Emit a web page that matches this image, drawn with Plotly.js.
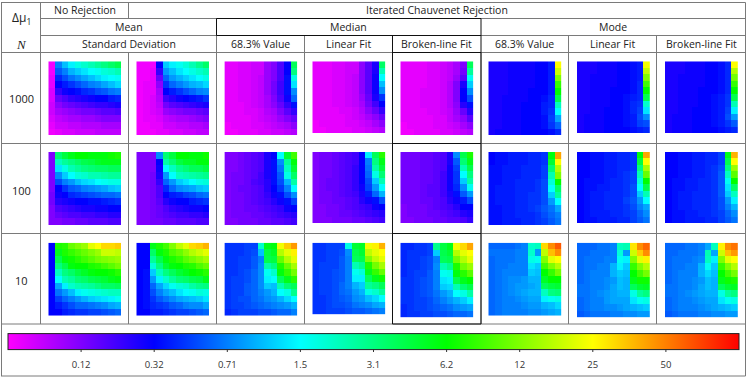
<!DOCTYPE html>
<html>
<head>
<meta charset="utf-8">
<script src="https://cdn.plot.ly/plotly-3.0.1.min.js"></script>
<style>
  html, body { margin: 0; padding: 0; background: #fff; }
  #graph { width: 747px; height: 378px; }
</style>
</head>
<body>
<div id="graph"></div>
<script>
// Colour levels, top row first.
// 0 magenta, 2 blue, 4 cyan, 6 green, 8 yellow, 10 red
const n1000_noRej = [
  [.1,3.0,3.5,3.9,4.2,4.4,4.6,4.8,5.0,5.2,5.4],
  [.1,2.7,3.0,3.4,3.6,3.8,4.0,4.1,4.3,4.4,4.6],
  [.2,2.3,2.6,2.9,3.1,3.3,3.5,3.7,3.9,4.0,4.1],
  [.2,2.0,2.2,2.4,2.6,2.8,3.0,3.1,3.3,3.5,3.7],
  [.3,1.6,1.9,2.0,2.1,2.3,2.4,2.6,2.7,2.9,3.0],
  [.3,1.2,1.4,1.6,1.7,1.8,1.9,2.0,2.0,2.2,2.3],
  [.4,.9,1.1,1.2,1.3,1.4,1.5,1.6,1.6,1.7,1.8],
  [.4,.7,.8,.9,1.0,1.1,1.1,1.2,1.3,1.3,1.4],
  [.3,.5,.6,.7,.7,.8,.8,.9,1.0,1.0,1.0],
  [.2,.4,.4,.5,.5,.6,.6,.6,.7,.7,.7],
  [.1,.2,.3,.3,.4,.4,.4,.5,.5,.5,.5]
];
const n1000_stdDev = [
  [.1,.1,.1,2.0,3.6,3.9,4.1,4.3,4.6,4.9,5.2],
  [.1,.1,.2,1.6,3.2,3.5,3.8,4.0,4.2,4.4,4.6],
  [.1,.1,.2,1.2,2.8,3.2,3.4,3.6,3.8,4.0,4.2],
  [.1,.2,.2,.9,2.4,2.8,3.0,3.2,3.4,3.5,3.7],
  [.1,.2,.2,.7,2.0,2.2,2.4,2.6,2.8,3.0,3.1],
  [.1,.2,.3,.6,1.5,1.7,1.9,2.0,2.1,2.2,2.4],
  [.1,.2,.3,.5,1.1,1.3,1.4,1.5,1.6,1.7,1.8],
  [.1,.2,.3,.4,.8,.9,1.0,1.1,1.1,1.2,1.3],
  [.1,.2,.2,.3,.5,.6,.7,.7,.8,.9,1.0],
  [.1,.1,.2,.2,.4,.4,.5,.5,.6,.6,.7],
  [.1,.1,.1,.2,.2,.3,.3,.4,.4,.5,.5]
];
const n1000_med683 = [
  [.2,.2,.3,.3,.4,.4,.8,1.0,1.4,2.0,5.3],
  [.2,.2,.3,.3,.4,.4,.8,1.0,1.4,2.0,5.0],
  [.2,.2,.3,.3,.4,.5,.8,1.0,1.4,2.1,4.2],
  [.2,.2,.3,.3,.4,.5,.8,1.1,1.5,2.1,3.8],
  [.2,.2,.3,.3,.4,.5,.8,1.1,1.5,2.1,3.1],
  [.2,.2,.3,.3,.4,.5,.7,1.0,1.4,1.9,2.8],
  [.2,.2,.2,.3,.4,.5,.7,.9,1.2,1.6,2.1],
  [.2,.2,.2,.3,.3,.4,.6,.7,1.0,1.3,1.6],
  [.2,.2,.2,.2,.3,.4,.5,.6,.8,1.0,1.2],
  [.1,.2,.2,.2,.3,.3,.4,.5,.6,.7,.9],
  [.1,.1,.2,.2,.2,.3,.3,.4,.4,.5,.6]
];
const n1000_medLin = [
  [.2,.2,.2,.3,.3,.4,.4,.9,1.3,1.8,5.2],
  [.2,.2,.2,.3,.3,.4,.4,.9,1.3,1.8,4.6],
  [.2,.2,.2,.3,.3,.4,.5,.9,1.3,1.9,4.0],
  [.2,.2,.2,.3,.3,.4,.5,.9,1.3,1.9,3.5],
  [.2,.2,.2,.3,.3,.4,.5,.9,1.3,1.9,3.1],
  [.2,.2,.2,.3,.3,.4,.5,.8,1.2,1.8,2.4],
  [.2,.2,.2,.3,.3,.4,.5,.7,1.1,1.5,2.0],
  [.2,.2,.2,.2,.3,.3,.4,.6,.9,1.2,1.6],
  [.2,.2,.2,.2,.2,.3,.4,.5,.7,.9,1.2],
  [.1,.2,.2,.2,.2,.3,.3,.4,.5,.7,.9],
  [.1,.1,.2,.2,.2,.2,.3,.3,.4,.5,.6]
];
const n1000_medBrk = [
  [.2,.2,.2,.2,.3,.3,.4,.5,.7,1.0,5.3],
  [.2,.2,.2,.2,.3,.3,.4,.5,.7,1.1,4.8],
  [.2,.2,.2,.2,.3,.3,.4,.5,.8,1.3,4.1],
  [.2,.2,.2,.2,.3,.3,.4,.6,1.0,1.8,3.6],
  [.2,.2,.2,.3,.3,.3,.4,.6,1.0,2.0,3.1],
  [.2,.2,.2,.3,.3,.3,.4,.6,1.0,2.0,2.6],
  [.2,.2,.2,.3,.3,.3,.4,.6,.9,1.7,2.1],
  [.2,.2,.2,.2,.3,.3,.4,.5,.8,1.2,1.7],
  [.2,.2,.2,.2,.2,.3,.3,.5,.7,.9,1.3],
  [.1,.2,.2,.2,.2,.3,.3,.4,.5,.7,.9],
  [.1,.1,.2,.2,.2,.2,.3,.3,.4,.5,.6]
];
const n1000_mod683 = [
  [1.8,1.8,1.8,1.9,1.9,1.9,1.9,2.0,2.0,2.2,8.0],
  [1.8,1.8,1.8,1.9,1.9,1.9,1.9,2.0,2.0,2.2,7.6],
  [1.8,1.8,1.8,1.9,1.9,1.9,1.9,2.0,2.0,2.2,7.0],
  [1.8,1.8,1.8,1.9,1.9,1.9,1.9,2.0,2.0,2.2,6.4],
  [1.8,1.8,1.8,1.9,1.9,1.9,2.0,2.0,2.0,2.2,6.0],
  [1.8,1.8,1.9,1.9,1.9,1.9,2.0,2.0,2.1,2.3,5.4],
  [1.8,1.8,1.9,1.9,1.9,2.0,2.0,2.0,2.2,2.3,4.5],
  [1.8,1.8,1.9,1.9,1.9,2.0,2.0,2.0,2.2,2.4,4.0],
  [1.8,1.8,1.9,1.9,1.9,2.0,2.0,2.0,2.1,2.5,3.3],
  [1.8,1.8,1.9,1.9,1.9,2.0,2.0,2.0,2.1,2.4,2.8],
  [1.8,1.9,1.9,1.9,1.9,2.0,2.0,2.0,2.0,2.1,2.3]
];
const n1000_modLin = [
  [1.8,1.8,1.8,1.9,1.9,1.9,2.0,2.0,2.1,2.2,7.9],
  [1.8,1.8,1.8,1.9,1.9,1.9,2.0,2.0,2.1,2.2,7.5],
  [1.8,1.8,1.9,1.9,1.9,1.9,2.0,2.0,2.1,2.2,7.0],
  [1.8,1.8,1.9,1.9,1.9,1.9,2.0,2.0,2.1,2.3,6.5],
  [1.8,1.8,1.9,1.9,1.9,2.0,2.0,2.0,2.1,2.3,6.0],
  [1.8,1.8,1.9,1.9,1.9,2.0,2.0,2.1,2.2,2.3,5.4],
  [1.8,1.8,1.9,1.9,1.9,2.0,2.0,2.1,2.3,2.4,4.4],
  [1.8,1.8,1.9,1.9,2.0,2.0,2.0,2.1,2.3,2.5,3.8],
  [1.8,1.9,1.9,1.9,2.0,2.0,2.0,2.1,2.2,2.6,3.1],
  [1.8,1.9,1.9,1.9,2.0,2.0,2.0,2.1,2.2,2.5,2.6],
  [1.8,1.9,1.9,1.9,2.0,2.0,2.0,2.0,2.1,2.2,2.3]
];
const n1000_modBrk = [
  [1.8,1.8,1.8,1.9,1.9,1.9,2.0,2.0,2.1,2.3,8.0],
  [1.8,1.8,1.8,1.9,1.9,1.9,2.0,2.0,2.1,2.3,7.4],
  [1.8,1.8,1.9,1.9,1.9,1.9,2.0,2.0,2.1,2.3,6.9],
  [1.8,1.8,1.9,1.9,1.9,1.9,2.0,2.0,2.1,2.3,6.4],
  [1.8,1.8,1.9,1.9,1.9,2.0,2.0,2.0,2.1,2.3,6.0],
  [1.8,1.8,1.9,1.9,1.9,2.0,2.0,2.1,2.2,2.4,5.4],
  [1.8,1.8,1.9,1.9,1.9,2.0,2.0,2.1,2.2,2.4,4.6],
  [1.8,1.8,1.9,1.9,2.0,2.0,2.0,2.1,2.2,2.5,3.9],
  [1.8,1.9,1.9,1.9,2.0,2.0,2.0,2.1,2.2,2.6,3.2],
  [1.8,1.9,1.9,1.9,2.0,2.0,2.0,2.1,2.2,2.4,2.7],
  [1.8,1.9,1.9,1.9,2.0,2.0,2.0,2.0,2.1,2.2,2.3]
];

const n100_noRej = [
  [1.0,5.1,5.5,5.8,6.0,6.0,5.9,5.9,5.9,6.1,6.2],
  [1.0,4.5,4.8,5.0,5.2,5.4,5.5,5.7,5.8,5.8,5.8],
  [1.0,3.8,4.2,4.6,4.8,5.0,5.1,5.2,5.2,5.3,5.3],
  [1.0,3.1,3.6,4.0,4.3,4.4,4.6,4.6,4.7,4.8,4.8],
  [1.0,2.6,3.0,3.2,3.5,3.7,3.8,4.0,4.1,4.2,4.2],
  [1.0,2.0,2.4,2.7,2.8,3.0,3.1,3.2,3.3,3.5,3.6],
  [1.1,1.9,2.0,2.3,2.4,2.5,2.6,2.7,2.8,2.8,2.9],
  [1.1,1.7,1.8,1.9,2.0,2.0,2.1,2.1,2.2,2.3,2.4],
  [1.0,1.4,1.5,1.6,1.7,1.8,1.8,1.9,1.9,2.0,2.0],
  [1.0,1.2,1.3,1.4,1.4,1.5,1.5,1.6,1.6,1.7,1.7],
  [1.0,1.0,1.1,1.1,1.2,1.2,1.3,1.3,1.3,1.4,1.4]
];
const n100_stdDev = [
  [1.0,1.0,1.0,3.1,5.1,5.5,6.0,6.0,5.9,5.9,6.1],
  [1.0,1.0,1.0,2.0,4.7,5.1,5.5,5.7,5.7,5.9,5.9],
  [1.0,1.0,1.0,1.9,4.0,4.5,4.9,5.1,5.3,5.3,5.5],
  [1.0,1.0,1.1,1.8,3.2,4.0,4.5,4.6,4.7,4.8,4.9],
  [1.0,1.0,1.1,1.6,2.8,3.2,3.6,3.8,4.0,4.2,4.3],
  [1.0,1.0,1.1,1.4,2.3,2.8,3.1,3.2,3.3,3.5,3.6],
  [1.0,1.0,1.1,1.4,2.0,2.2,2.3,2.5,2.6,2.8,2.9],
  [1.0,1.0,1.1,1.3,1.7,1.9,2.0,2.0,2.2,2.3,2.4],
  [1.0,1.0,1.1,1.2,1.4,1.6,1.7,1.8,1.9,1.9,2.0],
  [1.0,1.0,1.1,1.2,1.3,1.4,1.5,1.5,1.6,1.6,1.7],
  [1.0,1.0,1.1,1.1,1.2,1.2,1.3,1.3,1.3,1.4,1.4]
];
const n100_med683 = [
  [1.0,1.0,1.1,1.2,1.3,1.4,1.8,2.0,4.0,5.6,6.5],
  [1.0,1.0,1.1,1.2,1.3,1.4,1.8,2.1,3.1,4.8,5.9],
  [1.0,1.0,1.1,1.2,1.3,1.4,1.8,2.1,2.9,4.5,5.6],
  [1.0,1.1,1.1,1.2,1.3,1.5,1.8,2.1,2.7,4.2,5.2],
  [1.0,1.1,1.1,1.2,1.4,1.5,1.7,2.1,2.6,3.4,4.7],
  [1.0,1.1,1.2,1.2,1.3,1.4,1.7,2.0,2.4,3.0,4.0],
  [1.0,1.1,1.1,1.2,1.3,1.4,1.6,1.9,2.1,2.6,3.1],
  [1.0,1.1,1.1,1.2,1.3,1.4,1.5,1.7,1.9,2.1,2.5],
  [1.0,1.1,1.1,1.2,1.2,1.3,1.4,1.5,1.6,1.9,2.0],
  [1.0,1.1,1.1,1.1,1.2,1.2,1.3,1.4,1.5,1.6,1.7],
  [1.0,1.0,1.1,1.1,1.1,1.2,1.2,1.3,1.3,1.4,1.5]
];
const n100_medLin = [
  [1.0,1.1,1.1,1.2,1.3,1.4,1.5,2.0,3.9,5.3,6.3],
  [1.0,1.1,1.1,1.2,1.3,1.4,1.5,2.0,3.0,5.0,5.8],
  [1.0,1.1,1.1,1.2,1.3,1.4,1.6,2.0,2.9,4.7,5.5],
  [1.0,1.1,1.1,1.2,1.3,1.4,1.6,2.0,2.8,4.2,5.1],
  [1.0,1.1,1.2,1.2,1.3,1.4,1.6,2.0,2.6,3.6,4.6],
  [1.0,1.1,1.2,1.2,1.3,1.4,1.6,1.9,2.5,3.2,4.0],
  [1.0,1.1,1.1,1.2,1.3,1.4,1.5,1.8,2.2,2.8,3.4],
  [1.0,1.1,1.1,1.2,1.2,1.3,1.4,1.7,1.9,2.1,2.6],
  [1.0,1.0,1.1,1.1,1.2,1.3,1.4,1.5,1.6,1.9,2.0],
  [1.0,1.0,1.1,1.1,1.2,1.2,1.3,1.4,1.5,1.6,1.7],
  [1.0,1.0,1.0,1.1,1.1,1.1,1.2,1.2,1.3,1.4,1.5]
];
const n100_medBrk = [
  [1.1,1.1,1.1,1.2,1.2,1.3,1.4,1.8,3.1,5.4,6.2],
  [1.1,1.1,1.1,1.2,1.2,1.3,1.4,1.8,2.7,5.1,5.8],
  [1.1,1.1,1.1,1.2,1.2,1.3,1.4,1.9,2.5,4.6,5.4],
  [1.1,1.1,1.1,1.2,1.2,1.3,1.5,1.9,2.4,4.0,5.0],
  [1.1,1.1,1.1,1.2,1.2,1.3,1.5,1.9,2.4,3.6,4.7],
  [1.1,1.1,1.1,1.2,1.3,1.3,1.5,1.9,2.3,3.1,4.1],
  [1.1,1.1,1.1,1.2,1.3,1.3,1.5,1.8,2.1,2.7,3.2],
  [1.1,1.1,1.1,1.2,1.2,1.3,1.4,1.7,1.9,2.2,2.6],
  [1.0,1.1,1.1,1.1,1.2,1.3,1.4,1.5,1.7,2.0,2.0],
  [1.0,1.1,1.1,1.1,1.2,1.2,1.3,1.4,1.5,1.7,1.8],
  [1.0,1.0,1.1,1.1,1.1,1.2,1.2,1.3,1.3,1.4,1.6]
];
const n100_mod683 = [
  [2.0,2.1,2.1,2.2,2.2,2.2,2.3,2.3,2.4,5.9,8.7],
  [2.0,2.1,2.1,2.2,2.2,2.2,2.3,2.3,2.4,5.6,8.0],
  [2.1,2.1,2.2,2.2,2.2,2.3,2.3,2.3,2.5,5.1,7.4],
  [2.1,2.1,2.2,2.2,2.2,2.3,2.3,2.3,2.5,4.6,7.0],
  [2.1,2.1,2.2,2.2,2.3,2.3,2.3,2.4,2.6,4.3,6.0],
  [2.1,2.2,2.2,2.2,2.3,2.3,2.3,2.4,2.6,4.0,5.2],
  [2.1,2.2,2.2,2.2,2.3,2.3,2.4,2.4,2.6,3.6,4.8],
  [2.1,2.2,2.2,2.2,2.3,2.3,2.4,2.4,2.6,3.2,4.0],
  [2.1,2.1,2.2,2.2,2.3,2.3,2.4,2.5,2.7,2.9,3.3],
  [2.1,2.1,2.2,2.2,2.3,2.3,2.3,2.4,2.6,2.8,3.0],
  [2.1,2.1,2.2,2.2,2.2,2.3,2.3,2.4,2.5,2.7,2.9]
];
const n100_modLin = [
  [2.0,2.0,2.1,2.1,2.2,2.2,2.3,2.3,2.4,5.9,8.7],
  [2.0,2.0,2.1,2.1,2.2,2.2,2.3,2.3,2.4,5.5,8.0],
  [2.0,2.0,2.1,2.1,2.2,2.2,2.3,2.3,2.4,5.0,7.3],
  [2.0,2.0,2.1,2.1,2.2,2.2,2.3,2.4,2.5,4.6,6.8],
  [2.0,2.1,2.1,2.1,2.2,2.3,2.3,2.4,2.5,4.3,6.0],
  [2.0,2.1,2.1,2.2,2.2,2.3,2.3,2.4,2.6,4.0,5.4],
  [2.0,2.1,2.2,2.2,2.3,2.3,2.3,2.4,2.6,3.6,4.6],
  [2.0,2.1,2.2,2.2,2.3,2.3,2.3,2.5,2.7,3.2,4.0],
  [2.0,2.1,2.2,2.2,2.3,2.3,2.3,2.4,2.6,3.0,3.3],
  [2.0,2.1,2.2,2.2,2.2,2.3,2.3,2.4,2.5,2.8,3.1],
  [2.0,2.1,2.1,2.2,2.2,2.2,2.3,2.3,2.5,2.7,2.9]
];
const n100_modBrk = [
  [2.0,2.0,2.1,2.1,2.2,2.2,2.3,2.3,2.5,5.8,8.6],
  [2.0,2.0,2.1,2.1,2.2,2.2,2.3,2.3,2.5,5.4,8.0],
  [2.0,2.0,2.1,2.1,2.2,2.2,2.3,2.4,2.6,5.0,7.2],
  [2.0,2.0,2.1,2.1,2.2,2.2,2.3,2.4,2.7,4.5,6.7],
  [2.0,2.1,2.1,2.2,2.2,2.3,2.3,2.4,2.7,4.1,6.0],
  [2.0,2.1,2.1,2.2,2.2,2.3,2.3,2.4,2.7,3.8,5.2],
  [2.0,2.1,2.2,2.2,2.3,2.3,2.3,2.4,2.7,3.6,4.5],
  [2.0,2.1,2.2,2.2,2.3,2.3,2.3,2.4,2.6,3.2,3.9],
  [2.0,2.1,2.2,2.2,2.3,2.3,2.3,2.4,2.6,3.0,3.4],
  [2.0,2.1,2.1,2.2,2.2,2.3,2.3,2.4,2.5,2.8,3.1],
  [2.0,2.1,2.1,2.2,2.2,2.2,2.3,2.3,2.5,2.7,2.9]
];

const n10_noRej = [
  [2.0,6.2,6.3,6.8,7.0,7.2,7.8,8.0,8.3,8.3,8.4],
  [2.0,5.8,6.2,6.4,6.6,6.8,7.0,7.2,7.6,7.6,7.5],
  [2.0,5.4,5.9,6.1,6.3,6.5,6.7,6.9,7.0,7.1,7.2],
  [2.0,5.0,5.4,5.9,6.0,6.0,6.2,6.3,6.5,6.7,6.9],
  [2.0,4.5,5.0,5.2,5.5,5.7,5.9,6.0,6.0,6.1,6.3],
  [2.0,4.0,4.6,4.8,5.1,5.2,5.4,5.5,5.6,5.8,5.9],
  [2.0,3.3,3.9,4.4,4.6,4.7,4.8,5.0,5.2,5.2,5.3],
  [2.0,2.9,3.2,3.5,3.9,4.1,4.2,4.3,4.4,4.5,4.5],
  [2.0,2.5,2.8,3.0,3.2,3.4,3.6,3.7,3.8,3.9,4.1],
  [2.0,2.2,2.4,2.6,2.8,2.8,2.9,3.0,3.1,3.3,3.4],
  [2.0,2.0,2.2,2.3,2.4,2.4,2.5,2.5,2.6,2.7,2.8]
];
const n10_stdDev = [
  [2.0,2.0,5.8,6.2,6.5,7.0,7.5,7.8,8.3,8.4,8.6],
  [2.0,2.0,5.2,5.9,6.2,6.6,6.8,7.1,7.4,7.6,7.8],
  [2.0,2.0,4.8,5.4,5.9,6.2,6.4,6.7,6.9,7.1,7.3],
  [2.0,2.0,4.3,5.0,5.6,5.9,6.0,6.2,6.3,6.6,6.8],
  [2.0,2.1,3.6,4.5,5.0,5.3,5.6,5.8,6.0,6.1,6.3],
  [2.0,2.1,3.2,3.9,4.4,4.8,5.1,5.2,5.4,5.5,5.8],
  [2.0,2.1,2.8,3.3,3.7,4.1,4.3,4.4,4.7,4.9,5.0],
  [2.0,2.1,2.6,3.0,3.3,3.5,3.8,4.0,4.1,4.3,4.2],
  [2.0,2.1,2.4,2.7,2.9,3.1,3.3,3.4,3.5,3.6,3.8],
  [2.0,2.1,2.3,2.4,2.5,2.7,2.8,3.0,3.1,3.1,3.3],
  [2.0,2.0,2.2,2.2,2.3,2.4,2.5,2.5,2.6,2.7,2.8]
];
const n10_med683 = [
  [2.4,2.4,2.4,2.5,2.5,4.4,5.8,5.9,7.9,8.4,8.8],
  [2.4,2.4,2.4,2.5,2.6,3.5,5.5,5.7,7.4,7.8,8.1],
  [2.4,2.4,2.5,2.5,2.7,3.0,5.4,5.5,6.8,7.4,7.8],
  [2.4,2.4,2.5,2.5,2.7,3.1,4.7,5.0,6.2,6.8,7.3],
  [2.4,2.4,2.5,2.6,2.8,3.1,4.1,4.4,5.9,6.4,6.9],
  [2.4,2.5,2.5,2.6,2.8,3.1,3.9,4.0,5.3,5.8,6.3],
  [2.4,2.5,2.5,2.7,2.8,3.1,3.6,3.5,4.6,5.1,5.3],
  [2.4,2.5,2.5,2.7,2.8,3.0,3.2,3.4,4.0,4.2,4.9],
  [2.4,2.5,2.6,2.6,2.8,2.9,3.1,3.2,3.4,3.7,4.0],
  [2.4,2.5,2.5,2.6,2.7,2.8,2.9,3.0,3.1,3.2,3.4],
  [2.3,2.4,2.5,2.5,2.5,2.6,2.6,2.7,2.8,2.8,3.0]
];
const n10_medLin = [
  [2.4,2.4,2.5,2.5,2.5,4.2,5.6,5.7,7.9,8.1,8.6],
  [2.4,2.4,2.5,2.5,2.6,3.1,5.4,5.6,7.5,7.8,8.0],
  [2.4,2.4,2.5,2.5,2.7,3.0,5.3,5.4,7.0,7.5,7.8],
  [2.4,2.5,2.5,2.5,2.7,3.0,4.6,4.9,6.2,6.9,7.3],
  [2.4,2.5,2.5,2.6,2.7,3.0,4.1,4.3,5.8,6.4,6.8],
  [2.4,2.5,2.5,2.6,2.7,3.0,3.9,3.9,5.3,5.8,6.1],
  [2.4,2.5,2.5,2.6,2.8,3.0,3.4,3.6,4.8,5.0,5.3],
  [2.4,2.5,2.5,2.6,2.8,2.9,3.2,3.4,4.2,4.4,4.8],
  [2.4,2.4,2.5,2.6,2.7,2.8,3.1,3.2,3.5,3.7,4.0],
  [2.4,2.4,2.5,2.6,2.6,2.7,2.9,3.0,3.1,3.3,3.4],
  [2.4,2.4,2.5,2.5,2.5,2.6,2.7,2.7,2.8,2.9,3.0]
];
const n10_medBrk = [
  [2.3,2.3,2.4,2.4,2.5,4.9,5.5,5.8,7.9,8.3,8.7],
  [2.3,2.4,2.4,2.4,2.5,3.6,5.4,5.6,7.4,7.8,8.0],
  [2.3,2.4,2.4,2.5,2.6,3.0,5.3,5.4,6.9,7.4,7.8],
  [2.3,2.4,2.4,2.5,2.6,3.1,4.6,4.9,6.2,6.9,7.2],
  [2.3,2.4,2.5,2.5,2.7,3.0,4.1,4.2,5.9,6.3,6.7],
  [2.4,2.4,2.5,2.6,2.7,3.0,3.8,3.9,5.4,5.8,6.0],
  [2.4,2.4,2.5,2.6,2.7,3.0,3.6,3.7,4.6,5.1,5.4],
  [2.4,2.4,2.5,2.6,2.7,2.9,3.2,3.4,4.0,4.2,4.7],
  [2.4,2.4,2.5,2.5,2.6,2.8,3.0,3.2,3.4,3.6,3.9],
  [2.3,2.4,2.5,2.5,2.6,2.7,2.8,2.9,3.1,3.2,3.3],
  [2.3,2.4,2.4,2.5,2.5,2.6,2.6,2.7,2.8,2.8,2.9]
];
const n10_mod683 = [
  [2.8,2.8,2.8,2.8,2.9,3.0,4.4,4.5,8.3,8.9,9.3],
  [2.9,2.9,2.9,2.9,3.0,3.0,4.4,3.2,7.5,8.5,8.9],
  [2.8,2.9,2.9,2.9,3.0,3.0,4.2,4.1,7.0,7.8,8.0],
  [2.8,2.9,2.9,3.0,3.0,3.0,3.8,3.6,6.5,7.0,7.4],
  [2.8,2.9,3.0,3.0,3.0,3.0,3.6,3.5,6.0,6.4,6.9],
  [2.8,2.9,3.0,3.1,3.1,3.2,3.4,3.4,5.7,6.0,6.0],
  [2.8,2.9,3.0,3.1,3.2,3.2,3.3,3.4,5.3,5.5,5.6],
  [2.8,2.9,3.0,3.1,3.2,3.3,3.4,3.4,4.5,5.0,5.1],
  [2.8,2.9,3.0,3.0,3.1,3.2,3.3,3.3,3.9,4.1,4.2],
  [2.8,2.9,3.0,3.0,3.0,3.1,3.2,3.2,3.4,3.5,3.7],
  [2.8,2.9,3.0,3.0,3.0,3.0,3.1,3.1,3.2,3.3,3.4]
];
const n10_modLin = [
  [2.8,2.8,2.8,2.9,2.9,3.0,4.5,4.6,8.2,8.9,9.2],
  [2.8,2.8,2.9,2.9,2.9,3.0,4.3,3.2,7.6,8.4,8.9],
  [2.8,2.9,2.9,2.9,3.0,3.0,4.1,3.9,7.0,7.8,8.1],
  [2.8,2.9,2.9,3.0,3.0,3.4,3.9,3.6,6.4,7.0,7.4],
  [2.8,2.9,3.0,3.0,3.0,3.4,3.6,3.5,6.0,6.5,6.9],
  [2.8,2.9,3.0,3.0,3.1,3.2,3.5,3.4,5.8,6.1,6.1],
  [2.9,2.9,3.0,3.0,3.1,3.3,3.5,3.4,5.3,5.6,5.7],
  [2.9,2.9,3.0,3.1,3.2,3.3,3.4,3.4,4.2,4.8,5.0],
  [2.8,2.9,3.0,3.0,3.2,3.3,3.3,3.3,3.8,4.1,4.2],
  [2.8,2.9,3.0,3.0,3.1,3.1,3.2,3.3,3.4,3.5,3.6],
  [2.7,2.8,2.9,2.9,2.9,3.0,3.0,3.1,3.1,3.2,3.2]
];
const n10_modBrk = [
  [2.8,2.8,2.8,2.9,2.9,3.0,3.3,4.5,8.1,8.9,9.1],
  [2.8,2.8,2.9,2.9,2.9,3.0,4.6,3.3,7.6,8.5,8.8],
  [2.8,2.9,2.9,2.9,3.0,3.1,4.5,3.9,7.0,7.8,8.0],
  [2.8,2.9,2.9,3.0,3.0,3.4,4.1,3.6,6.4,7.0,7.4],
  [2.8,2.9,3.0,3.0,3.0,3.4,3.7,3.5,6.0,6.5,6.9],
  [2.8,2.9,3.0,3.0,3.1,3.2,3.5,3.4,5.8,6.1,6.2],
  [2.9,2.9,3.0,3.0,3.1,3.3,3.5,3.4,5.3,5.6,5.7],
  [2.9,2.9,3.0,3.1,3.2,3.3,3.4,3.4,4.2,4.8,5.0],
  [2.8,2.9,3.0,3.0,3.1,3.2,3.3,3.3,3.8,4.1,4.2],
  [2.8,2.9,3.0,3.0,3.0,3.1,3.2,3.3,3.4,3.5,3.6],
  [2.7,2.8,2.9,2.9,2.9,3.0,3.0,3.1,3.1,3.2,3.2]
];

const sampleSizes = ['1000', '100', '10'];
const columnLabels = ['68.3% Value', 'Linear Fit', 'Broken-line Fit', '68.3% Value', 'Linear Fit', 'Broken-line Fit'];
const barTickVals = [1, 2, 3, 4, 5, 6, 7, 8, 9];
const barTickText = ['0.12', '0.32', '0.71', '1.5', '3.1', '6.2', '12', '25', '50'];

const panels = [
  n1000_noRej, n1000_stdDev, n1000_med683, n1000_medLin, n1000_medBrk, n1000_mod683, n1000_modLin, n1000_modBrk,
  n100_noRej, n100_stdDev, n100_med683, n100_medLin, n100_medBrk, n100_mod683, n100_modLin, n100_modBrk,
  n10_noRej, n10_stdDev, n10_med683, n10_medLin, n10_medBrk, n10_mod683, n10_modLin, n10_modBrk
];

// page layout, in pixels
const W = 747, H = 378;
const colLeft = [48.3, 136.3, 224.4, 312.3, 400.3, 488.3, 577, 665];
const colRight = [121, 209, 297.2, 385.4, 473.4, 561.6, 649.8, 737.8];
const rowTop = [61.3, 152, 242.7];
const rowBottom = [
  [135, 135, 135, 133, 135, 135, 133, 133],
  [225.3, 225.3, 225.3, 223.4, 223.4, 225.3, 223.4, 223.4],
  [315.7, 315.7, 315.7, 314.3, 317.3, 315.7, 317.3, 317.3]
];
const barLeft = 8, barWidth = 731, barBottom = 349.5;

const px = x => x / W;
const py = y => 1 - y / H;

const data = [];
const layout = {
  width: W,
  height: H,
  // autoexpand off, or the colour bar pushes the paper coordinates around
  margin: {l: 0, r: 0, t: 0, b: 0, autoexpand: false},
  paper_bgcolor: '#fff',
  plot_bgcolor: '#fff',
  showlegend: false,
  font: {family: '"Open Sans", sans-serif', size: 10.5, color: '#222'},
  coloraxis: {
    cmin: 0,
    cmax: 10,
    colorscale: [[0, '#ff00ff'], [0.2, '#0000ff'], [0.4, '#00ffff'], [0.6, '#00ff00'], [0.8, '#ffff00'], [1, '#ff0000']],
    colorbar: {
      orientation: 'h',
      lenmode: 'pixels',
      len: barWidth,
      thickness: 16,
      thicknessmode: 'pixels',
      x: px(barLeft),
      xanchor: 'left',
      xpad: 0,
      // bottom anchor counts the tick labels too
      y: py(barBottom + 22.5),
      yanchor: 'bottom',
      ypad: 0,
      outlinecolor: '#222',
      outlinewidth: 1,
      tickmode: 'array',
      tickvals: barTickVals,
      ticktext: barTickText,
      // long clear ticks hold the labels off the bar, the short visible ones are drawn below
      ticks: 'outside',
      ticklen: 7,
      tickcolor: 'rgba(0,0,0,0)',
      tickfont: {family: '"Open Sans", sans-serif', size: 9.5, color: '#333'}
    }
  },
  shapes: [],
  annotations: []
};

panels.forEach(function (z, i) {
  const col = i % 8;
  const row = Math.floor(i / 8);
  const n = i + 1;
  data.push({
    type: 'heatmap',
    z: z,
    coloraxis: 'coloraxis',
    xaxis: 'x' + n,
    yaxis: 'y' + n,
    hoverinfo: 'skip'
  });
  layout['xaxis' + n] = {
    domain: [px(colLeft[col]), px(colRight[col])],
    anchor: 'y' + n,
    visible: false
  };
  layout['yaxis' + n] = {
    domain: [py(rowBottom[row][col]), py(rowTop[row])],
    anchor: 'x' + n,
    autorange: 'reversed',
    visible: false
  };
});

function line(x0, y0, x1, y1, color, width) {
  layout.shapes.push({
    type: 'line',
    xref: 'paper',
    yref: 'paper',
    x0: px(x0),
    y0: py(y0),
    x1: px(x1),
    y1: py(y1),
    line: {color: color, width: width}
  });
}

function label(text, x, y, font) {
  layout.annotations.push({
    text: text,
    xref: 'paper',
    yref: 'paper',
    x: px(x),
    y: py(y),
    xanchor: 'center',
    yanchor: 'middle',
    showarrow: false,
    font: font || {}
  });
}

// table grid
const gray = '#7a7a7a';
const black = '#111';
const gridX = [40.5, 128.5, 216.5, 304.5, 392.5, 481, 568.5, 656.5];
[2.5, 18.5, 35.5, 52.5, 143.5, 233.5, 324, 376].forEach(function (y, i) {
  line(i === 1 || i === 2 ? 40.5 : 1, y, 745.5, y, gray, 1);
});
line(1.5, 2.5, 1.5, 376, gray, 1);
line(745.5, 2.5, 745.5, 376, gray, 1);
line(40.5, 2.5, 40.5, 324, gray, 1);
line(128.5, 2.5, 128.5, 18.5, gray, 1);
gridX.slice(1).forEach(function (x) {
  line(x, 52.5, x, 324, gray, 1);
});
line(216.5, 35.5, 216.5, 52.5, gray, 1);
line(304.5, 35.5, 304.5, 52.5, gray, 1);
line(568.5, 35.5, 568.5, 52.5, gray, 1);
line(656.5, 35.5, 656.5, 52.5, gray, 1);

// black boxes round Median and Broken-line Fit
line(216.5, 18.5, 481, 18.5, black, 1);
line(216.5, 35.5, 481, 35.5, black, 1);
line(216.5, 18.5, 216.5, 35.5, black, 1);
line(481, 18.5, 481, 324, black, 1);
line(392.5, 35.5, 392.5, 324, black, 1);
[52.5, 143.5, 233.5, 324].forEach(function (y) {
  line(392.5, y, 481, y, black, 1);
});

// short ticks under the colour bar
barTickVals.forEach(function (v) {
  const x = barLeft + v / 10 * barWidth;
  line(x, barBottom, x, barBottom + 2.5, '#333', 1);
});

// header text
label('Δμ<sub>1</sub>', 21, 18, {size: 12});
label('<i>N</i>', 21, 44, {family: '"Liberation Serif", serif', size: 13});
label('No Rejection', 84.5, 10);
label('Iterated Chauvenet Rejection', 437, 10);
label('Mean', 128.5, 27);
label('Median', 348.5, 27);
label('Mode', 613, 27);
label('Standard Deviation', 128.5, 44);
columnLabels.forEach(function (t, i) {
  label(t, (gridX[i + 2] + (i === 5 ? 745.5 : gridX[i + 3])) / 2, 44);
});
sampleSizes.forEach(function (t, i) {
  label(t, 21, [99, 190, 280][i], {size: 11});
});

Plotly.newPlot('graph', data, layout, {displayModeBar: false, staticPlot: true});
</script>
</body>
</html>
